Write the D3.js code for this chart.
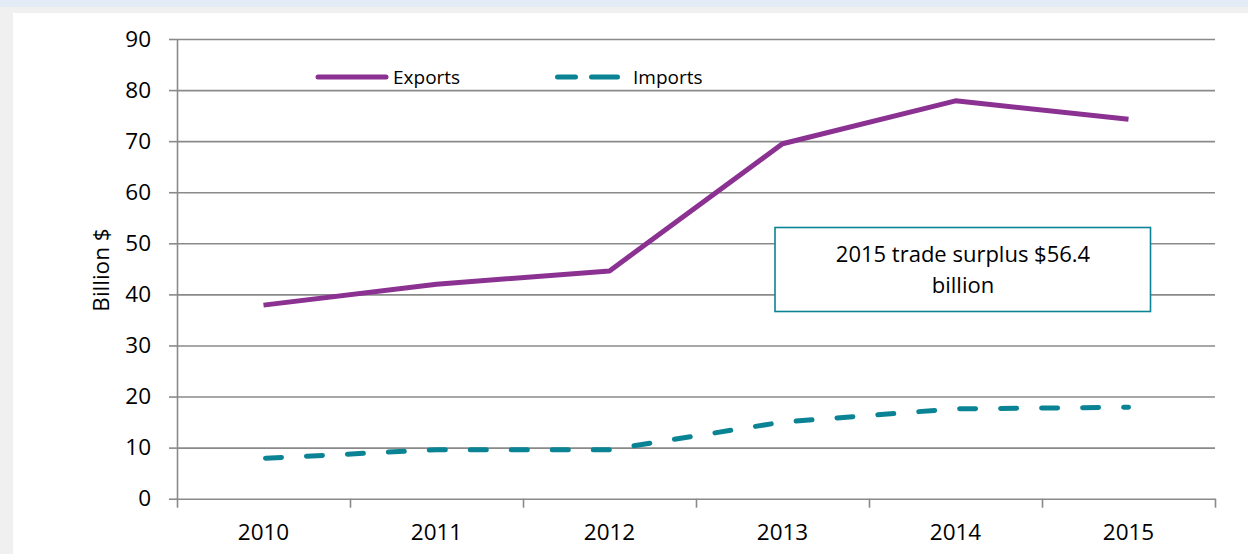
<!DOCTYPE html>
<html>
<head>
<meta charset="utf-8">
<script src="https://cdn.jsdelivr.net/npm/d3@7"></script>
<style>
  html, body { margin: 0; padding: 0; background: #ffffff; }
  svg { display: block; font-family: "Open Sans", "Noto Sans", sans-serif; }
</style>
</head>
<body>
<svg id="chart" width="1248" height="554"></svg>
<script>
// Trade in goods, billions of dollars
const years = ["2010", "2011", "2012", "2013", "2014", "2015"];
const exportsValues = [37.9, 42.0, 44.6, 69.5, 77.9, 74.3];
const importsValues = [7.9, 9.6, 9.6, 15.0, 17.6, 17.9];
const yTicks = [0, 10, 20, 30, 40, 50, 60, 70, 80, 90];
const seriesNames = ["Exports", "Imports"];
const noteLines = ["2015 trade surplus $56.4", "billion"];

const W = 1248, H = 554;
const margin = { left: 177, right: 33, top: 39, bottom: 55.3 };
const innerW = W - margin.left - margin.right;
const innerH = H - margin.top - margin.bottom;

const purple = "#8b3192";
const teal = "#0a8494";
const gridColor = "#8a8a8a";

const svg = d3.select("#chart");

// Page frame: pale blue strip on top, light gray border
svg.append("rect").attr("x", 0).attr("y", 0).attr("width", W).attr("height", H).attr("fill", "#f0f0f0");
svg.append("rect").attr("x", 0).attr("y", 0).attr("width", W).attr("height", 7).attr("fill", "#e3ebf6");
svg.append("rect").attr("x", 13).attr("y", 13).attr("width", W - 13).attr("height", H - 13).attr("fill", "#ffffff");

const g = svg.append("g").attr("transform", `translate(${margin.left},${margin.top})`);

const x = d3.scaleBand().domain(years).range([0, innerW]).padding(0);
const xEdge = d3.scaleLinear().domain([0, years.length]).range([0, innerW]);
const y = d3.scaleLinear().domain([0, 90]).range([innerH, 0]);
const cx = d => x(d) + x.bandwidth() / 2;

// Horizontal gridlines
g.append("g")
  .call(d3.axisLeft(y).tickValues(yTicks.filter(v => v > 0)).tickSize(-innerW).tickFormat(""))
  .call(s => s.select(".domain").remove())
  .call(s => s.selectAll("line").attr("stroke", gridColor).attr("stroke-width", 1.6));

// Y axis
g.append("g")
  .call(d3.axisLeft(y).tickValues(yTicks).tickSize(8).tickPadding(18).tickSizeOuter(0))
  .call(s => s.select(".domain").attr("stroke", gridColor).attr("stroke-width", 1.6))
  .call(s => s.selectAll("line").attr("stroke", gridColor).attr("stroke-width", 1.6))
  .call(s => s.selectAll("text").attr("font-size", 22.5).attr("fill", "#000").attr("font-family", "Open Sans"));

// X axis: tick marks at the category boundaries
g.append("g")
  .attr("transform", `translate(0,${innerH})`)
  .call(d3.axisBottom(xEdge).tickValues(d3.range(years.length + 1)).tickSize(9).tickFormat("").tickSizeOuter(0))
  .call(s => s.select(".domain").attr("stroke", gridColor).attr("stroke-width", 1.6))
  .call(s => s.selectAll("line").attr("stroke", gridColor).attr("stroke-width", 1.6));

// X axis labels centred in each category
g.append("g")
  .attr("transform", `translate(0,${innerH})`)
  .call(d3.axisBottom(x).tickSize(0))
  .call(s => s.select(".domain").remove())
  .call(s => s.selectAll("text").attr("y", 41.5).attr("dy", null)
    .attr("font-size", 22.5).attr("fill", "#000").attr("font-family", "Open Sans"));

// Y axis title
svg.append("text")
  .attr("transform", `translate(109,270) rotate(-90)`)
  .attr("text-anchor", "middle")
  .attr("font-size", 22.5)
  .attr("fill", "#000")
  .text("Billion $");

// Series lines
const line = d3.line().x(d => cx(d.year)).y(d => y(d.value));
const exportsData = years.map((yr, i) => ({ year: yr, value: exportsValues[i] }));
const importsData = years.map((yr, i) => ({ year: yr, value: importsValues[i] }));

g.append("path")
  .datum(exportsData)
  .attr("d", line)
  .attr("fill", "none")
  .attr("stroke", purple)
  .attr("stroke-width", 5)
  .attr("stroke-linejoin", "round");

g.append("path")
  .datum(importsData)
  .attr("d", line)
  .attr("fill", "none")
  .attr("stroke", teal)
  .attr("stroke-width", 5)
  .attr("stroke-linecap", "round")
  .attr("stroke-dasharray", "16,25")
  .attr("stroke-dashoffset", -2);

// Legend
const legend = svg.append("g");
legend.append("line")
  .attr("x1", 318).attr("x2", 386).attr("y1", 77).attr("y2", 77)
  .attr("stroke", purple).attr("stroke-width", 5).attr("stroke-linecap", "round");
legend.append("text")
  .attr("x", 393).attr("y", 83.5)
  .attr("font-size", 19).attr("fill", "#000")
  .text(seriesNames[0]);
legend.append("line")
  .attr("x1", 557.5).attr("x2", 617.5).attr("y1", 77).attr("y2", 77)
  .attr("stroke", teal).attr("stroke-width", 5).attr("stroke-linecap", "round")
  .attr("stroke-dasharray", "18,16,26");
legend.append("text")
  .attr("x", 633).attr("y", 83.5)
  .attr("font-size", 19).attr("fill", "#000")
  .text(seriesNames[1]);

// Annotation box
const note = svg.append("g");
note.append("rect")
  .attr("x", 775).attr("y", 227.5).attr("width", 375.5).attr("height", 84)
  .attr("fill", "#ffffff").attr("stroke", teal).attr("stroke-width", 1.6);
note.selectAll("text")
  .data(noteLines)
  .join("text")
  .attr("x", 963)
  .attr("y", (d, i) => 261.5 + i * 31.5)
  .attr("text-anchor", "middle")
  .attr("font-size", 22)
  .attr("fill", "#000")
  .text(d => d);
</script>
</body>
</html>
